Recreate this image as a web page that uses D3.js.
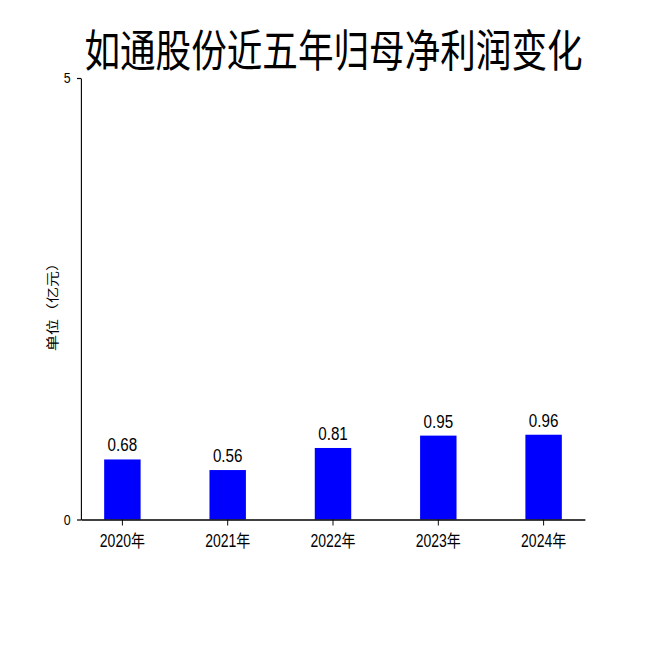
<!DOCTYPE html>
<html>
<head>
<meta charset="utf-8">
<script src="https://cdn.jsdelivr.net/npm/d3@7"></script>
<style>
  html, body { margin: 0; padding: 0; background: #fff; }
  svg { display: block; }
  text { font-family: "Liberation Sans", Arial, "Noto Sans CJK SC", sans-serif; fill: #000; }
</style>
</head>
<body>
<script>
const title = "如通股份近五年归母净利润变化";
const yLabel = "单位（亿元）";
const categories = ["2020年", "2021年", "2022年", "2023年", "2024年"];
const values = [0.68, 0.56, 0.81, 0.95, 0.96];
const yTicks = [0, 5];

const sx = 0.8;               // horizontal compression of the picture
const W = 650 / sx, H = 650;

const svg = d3.select("body").append("svg")
  .attr("width", 650).attr("height", 650)
  .attr("viewBox", `0 0 ${W} ${H}`)
  .attr("preserveAspectRatio", "none");

const mLeft = 81 / sx, mRight = 585 / sx, mTop = 78, mBottom = 519.5;

const x = d3.scaleBand().domain(categories).range([mLeft, mRight])
  .paddingInner(0.654).paddingOuter(0.22);
const y = d3.scaleLinear().domain([0, 5]).range([mBottom, mTop]);

// bars
svg.selectAll("rect.bar").data(values).join("rect")
  .attr("class", "bar")
  .attr("x", (d, i) => x(categories[i]))
  .attr("width", x.bandwidth())
  .attr("y", d => y(d))
  .attr("height", d => y(0) - y(d))
  .attr("fill", "#0000ff");

// value labels
svg.selectAll("text.val").data(values).join("text")
  .attr("class", "val")
  .attr("x", (d, i) => x(categories[i]) + x.bandwidth() / 2)
  .attr("y", d => y(d) - 8)
  .attr("text-anchor", "middle")
  .attr("font-size", 19)
  .text(d => d.toFixed(2));

// x axis
const xAxis = svg.append("g")
  .attr("transform", `translate(0,${mBottom})`)
  .call(d3.axisBottom(x).tickSize(6).tickSizeOuter(0));
xAxis.select(".domain").attr("stroke", "#000").attr("stroke-width", 1.4);
xAxis.selectAll(".tick line").attr("stroke", "#000").attr("stroke-width", 1.2);
xAxis.selectAll(".tick text")
  .attr("font-size", 17.5)
  .attr("dy", null)
  .attr("y", 27.5)
  .attr("fill", "#000")
  .style("font-family", '"Liberation Sans", Arial, "Noto Sans CJK SC", sans-serif');

// y axis
const yAxis = svg.append("g")
  .attr("transform", `translate(${mLeft},0)`)
  .call(d3.axisLeft(y).tickValues(yTicks).tickFormat(d3.format("d")).tickSize(5).tickSizeOuter(0));
yAxis.select(".domain").attr("stroke", "#000").attr("stroke-width", 1.4);
yAxis.selectAll(".tick line").attr("stroke", "#000").attr("stroke-width", 1.2);
yAxis.selectAll(".tick text")
  .attr("font-size", 15.5)
  .attr("x", -13)
  .attr("fill", "#000")
  .style("font-family", '"Liberation Sans", Arial, sans-serif');

// y label
svg.append("text")
  .attr("transform", `translate(${51 / sx},303) rotate(-90)`)
  .attr("text-anchor", "middle")
  .attr("dominant-baseline", "central")
  .attr("font-size", 16)
  .style("font-family", '"Noto Sans CJK SC", sans-serif')
  .text(yLabel);

// title
svg.append("text")
  .attr("x", 333.5 / sx)
  .attr("y", 67)
  .attr("text-anchor", "middle")
  .attr("font-size", 44.5)
  .style("font-family", '"Noto Sans CJK SC", sans-serif')
  .text(title);
</script>
</body>
</html>
